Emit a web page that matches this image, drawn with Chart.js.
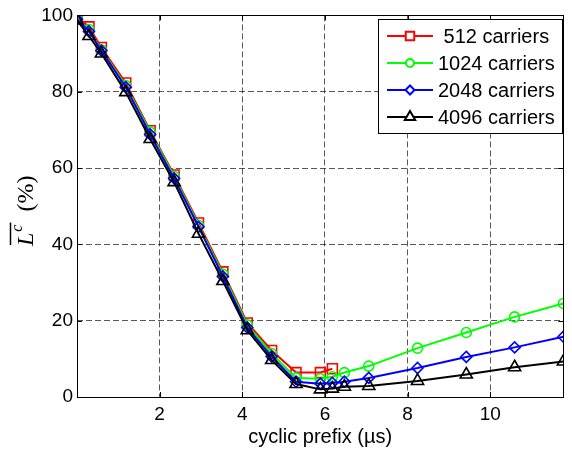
<!DOCTYPE html>
<html>
<head>
<meta charset="utf-8">
<script src="https://cdn.jsdelivr.net/npm/chart.js@4"></script>
<style>
  body { margin: 0; background: #fff; }
  #wrap { width: 572px; height: 449px; position: relative; }
</style>
</head>
<body>
<div id="wrap"><canvas id="grafico"></canvas></div>
<script>
// cyclic prefix length in microseconds
const prefixo = [0, 0.29, 0.59, 1.18, 1.77, 2.35, 2.94, 3.53, 4.12, 4.71, 5.3, 5.89, 6.18, 6.47, 7.06, 8.24, 9.42, 10.59, 11.77];

// values in % for each carrier count
const c512  = [99.7, 97.0, 91.6, 82.3, 69.8, 58.2, 45.6, 32.8, 19.4, 12.2, 6.4, 6.4, 7.4];
const c1024 = [99.3, 96.3, 91.0, 81.6, 69.4, 57.8, 45.0, 32.2, 18.9, 11.4, 5.0, 4.8, 5.3, 6.4, 8.1, 12.8, 16.9, 21.0, 24.5];
const c2048 = [99.0, 95.8, 90.8, 81.2, 68.8, 57.3, 44.6, 31.6, 18.2, 10.6, 4.0, 3.5, 3.7, 4.0, 5.0, 7.6, 10.5, 13.0, 15.8];
const c4096 = [98.7, 94.6, 90.0, 79.9, 67.6, 56.3, 42.8, 30.4, 17.5, 9.7, 3.4, 2.0, 2.2, 2.7, 2.9, 4.2, 5.9, 7.8, 9.3];

const rotulos = [" 512 carriers", "1024 carriers", "2048 carriers", "4096 carriers"];
const ticksX = [2, 4, 6, 8, 10];
const ticksY = [0, 20, 40, 60, 80, 100];

const fonte = "'Liberation Sans', Arial, Helvetica, sans-serif";
const serif = "'Liberation Serif', 'DejaVu Serif', serif";

function pontos(valores) {
    return valores.map((v, i) => ({ x: prefixo[i], y: v }));
}

function serie(label, valores, cor, estilo, raio, ordem) {
    return {
        label: label,
        data: pontos(valores),
        borderColor: cor,
        backgroundColor: "transparent",
        borderWidth: 2,
        pointStyle: estilo,
        pointRadius: raio,
        pointBorderWidth: 1.6,
        pointBorderColor: cor,
        pointBackgroundColor: "transparent",
        tension: 0,
        order: ordem,
    };
}

const datasets = [
    serie(rotulos[0], c512, "#ff0000", "rect", 7, 4),
    serie(rotulos[1], c1024, "#00ff00", "circle", 5, 3),
    serie(rotulos[2], c2048, "#0000ff", "rectRot", 5.5, 2),
    serie(rotulos[3], c4096, "#000000", "triangle", 7, 1),
];

// box, inward ticks, y title and legend
const molduraPlugin = {
    id: "moldura",
    afterDraw(chart) {
        const ctx = chart.ctx;
        const a = chart.chartArea;
        const sx = chart.scales.x, sy = chart.scales.y;
        ctx.save();
        ctx.strokeStyle = "#000";
        ctx.lineWidth = 1;
        ctx.setLineDash([]);
        ctx.strokeRect(Math.round(a.left) + 0.5, Math.round(a.top) + 0.5,
            Math.round(a.right - a.left), Math.round(a.bottom - a.top));

        const t = 5;
        ctx.beginPath();
        ticksX.forEach(v => {
            const px = Math.round(sx.getPixelForValue(v)) + 0.5;
            ctx.moveTo(px, a.bottom); ctx.lineTo(px, a.bottom - t);
            ctx.moveTo(px, a.top); ctx.lineTo(px, a.top + t);
        });
        ticksY.forEach(v => {
            const py = Math.round(sy.getPixelForValue(v)) + 0.5;
            ctx.moveTo(a.left, py); ctx.lineTo(a.left + t, py);
            ctx.moveTo(a.right, py); ctx.lineTo(a.right - t, py);
        });
        ctx.stroke();

        // y title: overline(L^c) (%)
        ctx.translate(33, 246);
        ctx.rotate(-Math.PI / 2);
        ctx.fillStyle = "#000";
        ctx.textBaseline = "alphabetic";
        ctx.textAlign = "left";
        ctx.font = "italic 24px " + serif;
        ctx.fillText("L", 0, 0);
        const wL = ctx.measureText("L").width;
        ctx.font = "italic 16px " + serif;
        ctx.fillText("c", wL + 1, -11);
        const wc = ctx.measureText("c").width;
        ctx.lineWidth = 1.5;
        ctx.beginPath();
        ctx.moveTo(1, -22.5);
        ctx.lineTo(wL + wc + 3, -22.5);
        ctx.stroke();
        ctx.font = "24px " + serif;
        ctx.fillText("(%)", wL + wc + 14, 0);
        ctx.restore();

        // legend
        const bx = 378.5, by = 19.5, bw = 184, bh = 114;
        ctx.save();
        ctx.fillStyle = "#fff";
        ctx.fillRect(bx, by, bw, bh);
        ctx.strokeStyle = "#000";
        ctx.lineWidth = 1;
        ctx.strokeRect(bx, by, bw, bh);
        const linhasY = [36, 63, 90, 117];
        chart.data.datasets.forEach((ds, i) => {
            const y = linhasY[i];
            ctx.strokeStyle = ds.borderColor;
            ctx.lineWidth = ds.borderWidth;
            ctx.beginPath();
            ctx.moveTo(387, y);
            ctx.lineTo(433, y);
            ctx.stroke();
            ctx.fillStyle = "#fff";
            Chart.helpers.drawPoint(ctx, {
                pointStyle: ds.pointStyle,
                radius: ds.pointRadius - 1,
                borderWidth: ds.pointBorderWidth,
                rotation: 0,
            }, 410, y);
            ctx.fillStyle = "#000";
            ctx.font = "20px " + fonte;
            ctx.textBaseline = "middle";
            ctx.textAlign = "left";
            ctx.fillText(ds.label, 438, y + 1);
        });
        ctx.restore();
    }
};

new Chart(document.getElementById("grafico"), {
    type: "line",
    data: { datasets: datasets },
    options: {
        responsive: true,
        maintainAspectRatio: false,
        animation: false,
        layout: { padding: { top: 12, right: 4, left: 0, bottom: 0 } },
        plugins: {
            legend: { display: false },
            tooltip: { enabled: false },
        },
        scales: {
            x: {
                type: "linear",
                min: 0,
                max: 11.77,
                afterBuildTicks: (s) => { s.ticks = ticksX.map(v => ({ value: v })); },
                afterFit: (s) => { s.height = 52; },
                grid: { color: "rgba(0,0,0,0.65)", lineWidth: 1, drawTicks: false },
                border: { display: false, dash: [6, 3] },
                ticks: { color: "#000", font: { family: fonte, size: 19 }, padding: 6, maxRotation: 0 },
                title: {
                    display: true,
                    text: "cyclic prefix (µs)",
                    color: "#000",
                    font: { family: fonte, size: 20 },
                    padding: { top: 0, bottom: 0 },
                },
            },
            y: {
                min: 0,
                max: 100,
                afterBuildTicks: (s) => { s.ticks = ticksY.map(v => ({ value: v })); },
                afterFit: (s) => { s.width = 77; },
                grid: { color: "rgba(0,0,0,0.65)", lineWidth: 1, drawTicks: false },
                border: { display: false, dash: [6, 3] },
                ticks: { color: "#000", font: { family: fonte, size: 19 }, padding: 4 },
            },
        },
    },
    plugins: [molduraPlugin],
});
</script>
</body>
</html>
